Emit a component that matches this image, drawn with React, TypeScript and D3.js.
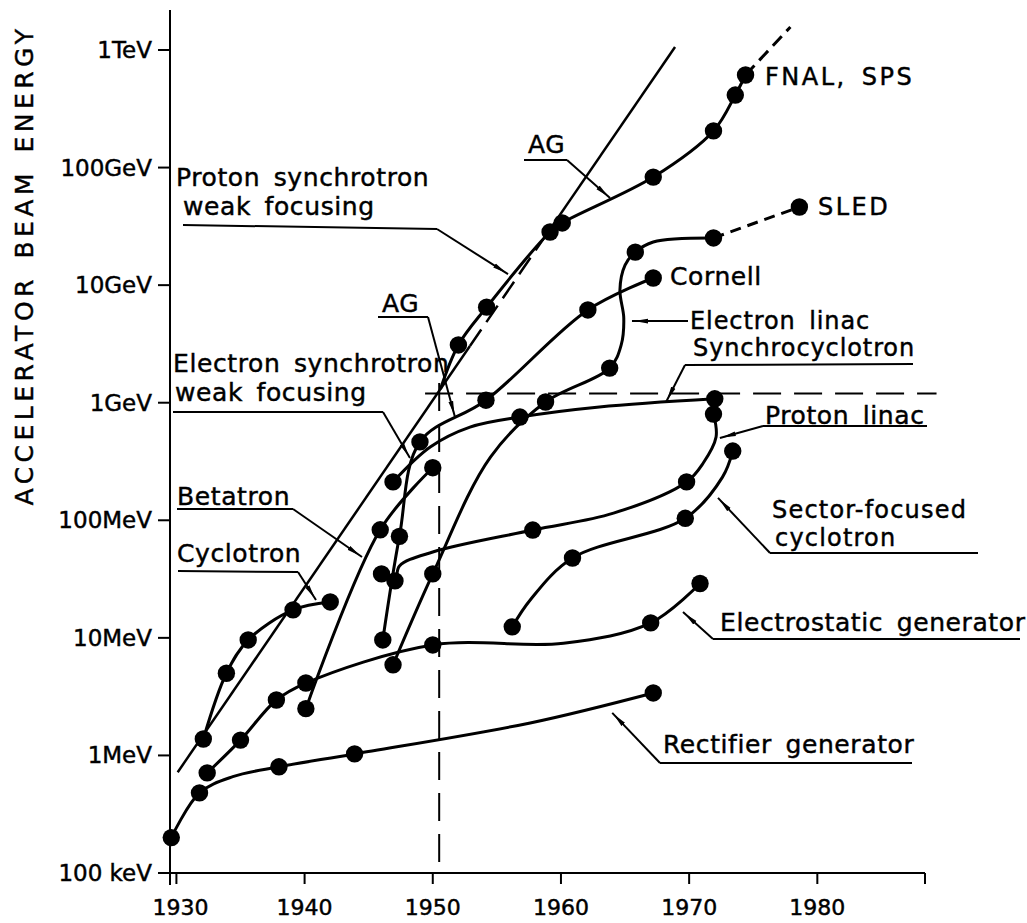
import React from 'react';
import * as d3 from 'd3';

type Pt = { year: number; mev: number; dot: boolean };
const pt = (year: number, mev: number, dot = true): Pt => ({ year, mev, dot });

// Axis ticks
const yearTicks = [1930, 1940, 1950, 1960, 1970, 1980];
const energyTicks = [0.1, 1, 10, 100, 1e3, 1e4, 1e5, 1e6];
const energyTickLabels = ['100 keV', '1MeV', '10MeV', '100MeV', '1GeV', '10GeV', '100GeV', '1TeV'];

// Beam energy (MeV) by year for each accelerator type; dot=false marks a bend of the drawn curve
const rectifierGenerator: Pt[] = [
  pt(1929.6, 0.2), pt(1931.8, 0.48), pt(1934.4, 0.66, false), pt(1938.0, 0.8),
  pt(1943.9, 1.03), pt(1957.6, 1.89, false), pt(1967.2, 3.4),
];
const electrostaticGenerator: Pt[] = [
  pt(1932.4, 0.71), pt(1935.0, 1.35), pt(1937.8, 2.96), pt(1940.1, 4.13),
  pt(1950.0, 8.7), pt(1960.2, 9.0, false), pt(1967.0, 13.4), pt(1970.85, 29),
];
const cyclotron: Pt[] = [
  pt(1932.1, 1.38), pt(1933.9, 5.0), pt(1935.6, 9.6), pt(1939.1, 17.3), pt(1942.0, 20.2),
];
const betatron: Pt[] = [pt(1940.1, 2.5), pt(1945.9, 83), pt(1950.0, 280)];
const electronSynchrotron: Pt[] = [
  pt(1946.1, 9.6), pt(1947.4, 73), pt(1949.0, 464), pt(1954.15, 1050),
  pt(1962.1, 6150), pt(1967.2, 11500),
];
const synchrocyclotron: Pt[] = [
  pt(1946.9, 212), pt(1949.8, 420, false), pt(1952.9, 620, false), pt(1956.8, 755),
  pt(1963.0, 920, false), pt(1972.0, 1080),
];
const electronLinac: Pt[] = [
  pt(1946.9, 5.9), pt(1950.0, 35), pt(1954.5, 345, false), pt(1958.8, 1014), pt(1963.8, 1970),
  pt(1964.7, 3100, false), pt(1964.9, 5260, false), pt(1964.6, 9100, false), pt(1965.0, 14800, false),
  pt(1965.8, 19100), pt(1967.2, 23300, false), pt(1971.9, 25200),
];
const sledExtension: Pt[] = [pt(1971.9, 25200, false), pt(1978.6, 46200)];
const protonLinac: Pt[] = [
  pt(1946.0, 35), pt(1947.05, 30.5), pt(1947.4, 40.8, false), pt(1950.0, 53.7, false), pt(1957.8, 82.6),
  pt(1964.1, 115, false), pt(1969.8, 212), pt(1971.1, 307, false), pt(1972.1, 511, false),
  pt(1971.9, 800),
];
const sectorFocusedCyclotron: Pt[] = [
  pt(1956.2, 12.4), pt(1957.6, 21, false), pt(1960.9, 47.8), pt(1969.7, 104),
  pt(1972.6, 233, false), pt(1973.4, 388),
];
const protonSynchrotron: Pt[] = [
  pt(1950.6, 1310, false), pt(1952.0, 3100), pt(1954.2, 6500), pt(1959.15, 28300),
  pt(1960.1, 33800), pt(1967.2, 83000), pt(1971.9, 205000), pt(1973.6, 414000), pt(1974.4, 613000),
];
const fnalExtension: Pt[] = [pt(1974.4, 613000, false), pt(1977.9, 1.57e6, false)];

// Straight envelope trend line, dashed over part of its length
const envelopeEnds: Pt[] = [pt(1930.1, 0.72, false), pt(1968.9, 1.06e6, false)];
const envelopeDashedYears = [1952.9, 1958.5];

// 1950 / ~1 GeV crosshair
const crossYear = 1950.5;
const crossEnergy = 1200;
const crossHorizontalYears = [1949.4, 1989.3];
const crossVerticalTop = 1470;

const mainSeries: Pt[][] = [
  rectifierGenerator, electrostaticGenerator, cyclotron, betatron, electronSynchrotron,
  synchrocyclotron, electronLinac, protonLinac, sectorFocusedCyclotron, protonSynchrotron,
];

type Callout = {
  lines: { text: string; x: number; y: number }[];
  underline?: [number, number, number, number];
  elbow?: [number, number];
  tip?: [number, number]; // year, MeV
  horizontalArrow?: boolean;
  size?: number;
  spacing?: number;
};

const callouts: Callout[] = [
  {
    lines: [{ text: 'Proton synchrotron', x: 176, y: 186 }, { text: 'weak focusing', x: 183, y: 215 }],
    underline: [183, 225, 437, 229], elbow: [437, 229], tip: [1955.87, 12400],
  },
  { lines: [{ text: 'AG', x: 528, y: 153 }], underline: [524, 160, 567, 160], elbow: [567, 160], tip: [1963.83, 55100] },
  {
    lines: [{ text: 'Electron synchrotron', x: 173, y: 372 }, { text: 'weak focusing', x: 175, y: 401 }],
    underline: [173, 412, 383, 412], elbow: [383, 412], tip: [1948.22, 339],
  },
  { lines: [{ text: 'AG', x: 382, y: 312 }], underline: [378, 317, 428, 317], elbow: [428, 317], tip: [1951.73, 757] },
  { lines: [{ text: 'Betatron', x: 177, y: 505 }], underline: [177, 509, 293, 509], elbow: [293, 509], tip: [1944.48, 48.7] },
  { lines: [{ text: 'Cyclotron', x: 177, y: 562 }], underline: [178, 571, 298, 572], elbow: [298, 572], tip: [1940.89, 21.0] },
  { lines: [{ text: 'Cornell', x: 670, y: 285 }] },
  { lines: [{ text: 'Electron linac', x: 690, y: 329 }], size: 24, spacing: 0.9, elbow: [688, 0], tip: [1965.54, 4950], horizontalArrow: true },
  { lines: [{ text: 'Synchrocyclotron', x: 693, y: 356 }], size: 24, spacing: 0.9, underline: [685, 365, 913, 364], elbow: [685, 365], tip: [1968.2, 1014] },
  { lines: [{ text: 'Proton linac', x: 765, y: 424 }], underline: [763, 426, 927, 426], elbow: [763, 426], tip: [1972.4, 501] },
  {
    lines: [{ text: 'Sector-focused', x: 772, y: 518 }, { text: 'cyclotron', x: 775, y: 546 }],
    size: 24, spacing: 1.2,
    underline: [770, 553, 978, 553], elbow: [770, 553], tip: [1972.25, 155],
  },
  { lines: [{ text: 'Electrostatic generator', x: 720, y: 631 }], underline: [713, 639, 1020, 639], elbow: [713, 639], tip: [1969.52, 16.6] },
  { lines: [{ text: 'Rectifier generator', x: 663, y: 753 }], underline: [660, 763, 912, 763], elbow: [660, 763], tip: [1964.0, 2.3] },
  { lines: [{ text: 'FNAL, SPS', x: 765, y: 85 }], size: 24, spacing: 2.5 },
  { lines: [{ text: 'SLED', x: 818, y: 215 }], size: 24, spacing: 2.5 },
];

const FONT = "'DejaVu Sans', 'Liberation Sans', sans-serif";
const TEXT_STROKE = 0.45;

export default function App() {
  const x = d3.scaleLinear().domain([1929.5, 1988.4]).range([170, 925]);
  const y = d3.scaleLog().domain([0.1, 1e6]).range([873, 50]);

  const curve = d3
    .line<Pt>()
    .x((d) => x(d.year))
    .y((d) => y(d.mev))
    .curve(d3.curveCatmullRom.alpha(0.5));
  const straight = d3
    .line<Pt>()
    .x((d) => x(d.year))
    .y((d) => y(d.mev));

  // points along the envelope at given years (straight in year / log-energy)
  const [e0, e1] = envelopeEnds;
  const envAt = (yr: number): Pt => {
    const t = (yr - e0.year) / (e1.year - e0.year);
    const lg = Math.log10(e0.mev) + t * (Math.log10(e1.mev) - Math.log10(e0.mev));
    return pt(yr, Math.pow(10, lg), false);
  };
  const envA = [e0, envAt(envelopeDashedYears[0])];
  const envB = [envAt(envelopeDashedYears[0]), envAt(envelopeDashedYears[1])];
  const envC = [envAt(envelopeDashedYears[1]), e1];

  const dots = [...mainSeries.flat(), ...sledExtension].filter((d) => d.dot);

  const [xMin] = x.range();
  const axisY = y(0.1);

  return (
    <svg
      width={1027}
      height={923}
      viewBox="0 0 1027 923"
      style={{ position: 'absolute', left: 0, top: 0, background: '#fff', display: 'block' }}
    >
      <defs>
        <marker
          id="arrow"
          viewBox="0 0 14 6"
          refX={16}
          refY={3}
          markerWidth={14}
          markerHeight={6}
          markerUnits="userSpaceOnUse"
          orient="auto"
        >
          <path d="M0,0.6 L14,3 L0,5.4 Z" fill="#000" />
        </marker>
      </defs>
      <rect width={1027} height={923} fill="#fff" />

      {/* axes */}
      <line x1={xMin} x2={xMin} y1={10} y2={885} stroke="#000" strokeWidth={2} />
      <line x1={160} x2={925} y1={axisY} y2={axisY} stroke="#000" strokeWidth={2} />
      <line x1={925} x2={925} y1={axisY} y2={axisY + 11} stroke="#000" strokeWidth={2} />
      {energyTicks.map((e, i) => (
        <g key={`ye${i}`}>
          <line x1={158} x2={xMin} y1={y(e)} y2={y(e)} stroke="#000" strokeWidth={2} />
          <text
            x={152}
            y={y(e) + 8}
            textAnchor="end"
            fontFamily={FONT}
            fontSize={23}
            fill="#000"
            stroke="#000"
            strokeWidth={TEXT_STROKE}
          >
            {energyTickLabels[i]}
          </text>
        </g>
      ))}
      {yearTicks.map((yr) => (
        <g key={`xy${yr}`}>
          <line x1={x(yr)} x2={x(yr)} y1={axisY} y2={axisY + 11} stroke="#000" strokeWidth={2} />
          <text
            x={x(yr) + (yr === 1930 ? 4 : 0)}
            y={915}
            textAnchor="middle"
            fontFamily={FONT}
            fontSize={22}
            fill="#000"
            stroke="#000"
            strokeWidth={TEXT_STROKE}
          >
            {yr}
          </text>
        </g>
      ))}
      <text
        transform="translate(33,265) rotate(-90)"
        textAnchor="middle"
        fontFamily={FONT}
        fontSize={25}
        letterSpacing={4.5}
        wordSpacing={4}
        fill="#000"
        stroke="#000"
        strokeWidth={TEXT_STROKE}
      >
        ACCELERATOR BEAM ENERGY
      </text>

      {/* crosshair */}
      <line
        x1={x(crossHorizontalYears[0])}
        x2={x(crossHorizontalYears[1])}
        y1={y(crossEnergy)}
        y2={y(crossEnergy)}
        stroke="#000"
        strokeWidth={2}
        strokeDasharray="28 13"
      />
      <line
        x1={x(crossYear)}
        x2={x(crossYear)}
        y1={y(crossVerticalTop)}
        y2={axisY}
        stroke="#000"
        strokeWidth={2}
        strokeDasharray="28 13"
      />

      {/* envelope */}
      <path d={straight(envA) || ''} fill="none" stroke="#000" strokeWidth={2.5} />
      <path d={straight(envB) || ''} fill="none" stroke="#000" strokeWidth={2.5} strokeDasharray="20 9" />
      <path d={straight(envC) || ''} fill="none" stroke="#000" strokeWidth={2.5} />

      {/* accelerator curves */}
      {mainSeries.map((s, i) => (
        <path key={`s${i}`} d={curve(s) || ''} fill="none" stroke="#000" strokeWidth={3} strokeLinejoin="round" />
      ))}
      <path d={straight(sledExtension) || ''} fill="none" stroke="#000" strokeWidth={3} strokeDasharray="11 7" />
      <path d={straight(fnalExtension) || ''} fill="none" stroke="#000" strokeWidth={3} strokeDasharray="13 7" />

      {dots.map((d, i) => (
        <circle key={`d${i}`} cx={x(d.year)} cy={y(d.mev)} r={8.7} fill="#000" />
      ))}

      {/* callouts */}
      {callouts.map((c, i) => {
        const tip = c.tip ? [x(c.tip[0]), y(c.tip[1])] : null;
        let leader: React.ReactNode = null;
        if (tip && c.elbow) {
          const ey = c.horizontalArrow ? tip[1] : c.elbow[1];
          leader = (
            <line
              x1={c.elbow[0]}
              y1={ey}
              x2={tip[0]}
              y2={tip[1]}
              stroke="#000"
              strokeWidth={2}
              markerEnd="url(#arrow)"
            />
          );
        }
        return (
          <g key={`c${i}`}>
            {c.lines.map((l, j) => (
              <text
                key={j}
                x={l.x}
                y={l.y}
                fontFamily={FONT}
                fontSize={c.size ?? 25}
                letterSpacing={c.spacing ?? 0.6}
                wordSpacing={5}
                fill="#000"
                stroke="#000"
                strokeWidth={TEXT_STROKE}
              >
                {l.text}
              </text>
            ))}
            {c.underline && (
              <line
                x1={c.underline[0]}
                y1={c.underline[1]}
                x2={c.underline[2]}
                y2={c.underline[3]}
                stroke="#000"
                strokeWidth={2}
              />
            )}
            {leader}
          </g>
        );
      })}
    </svg>
  );
}
